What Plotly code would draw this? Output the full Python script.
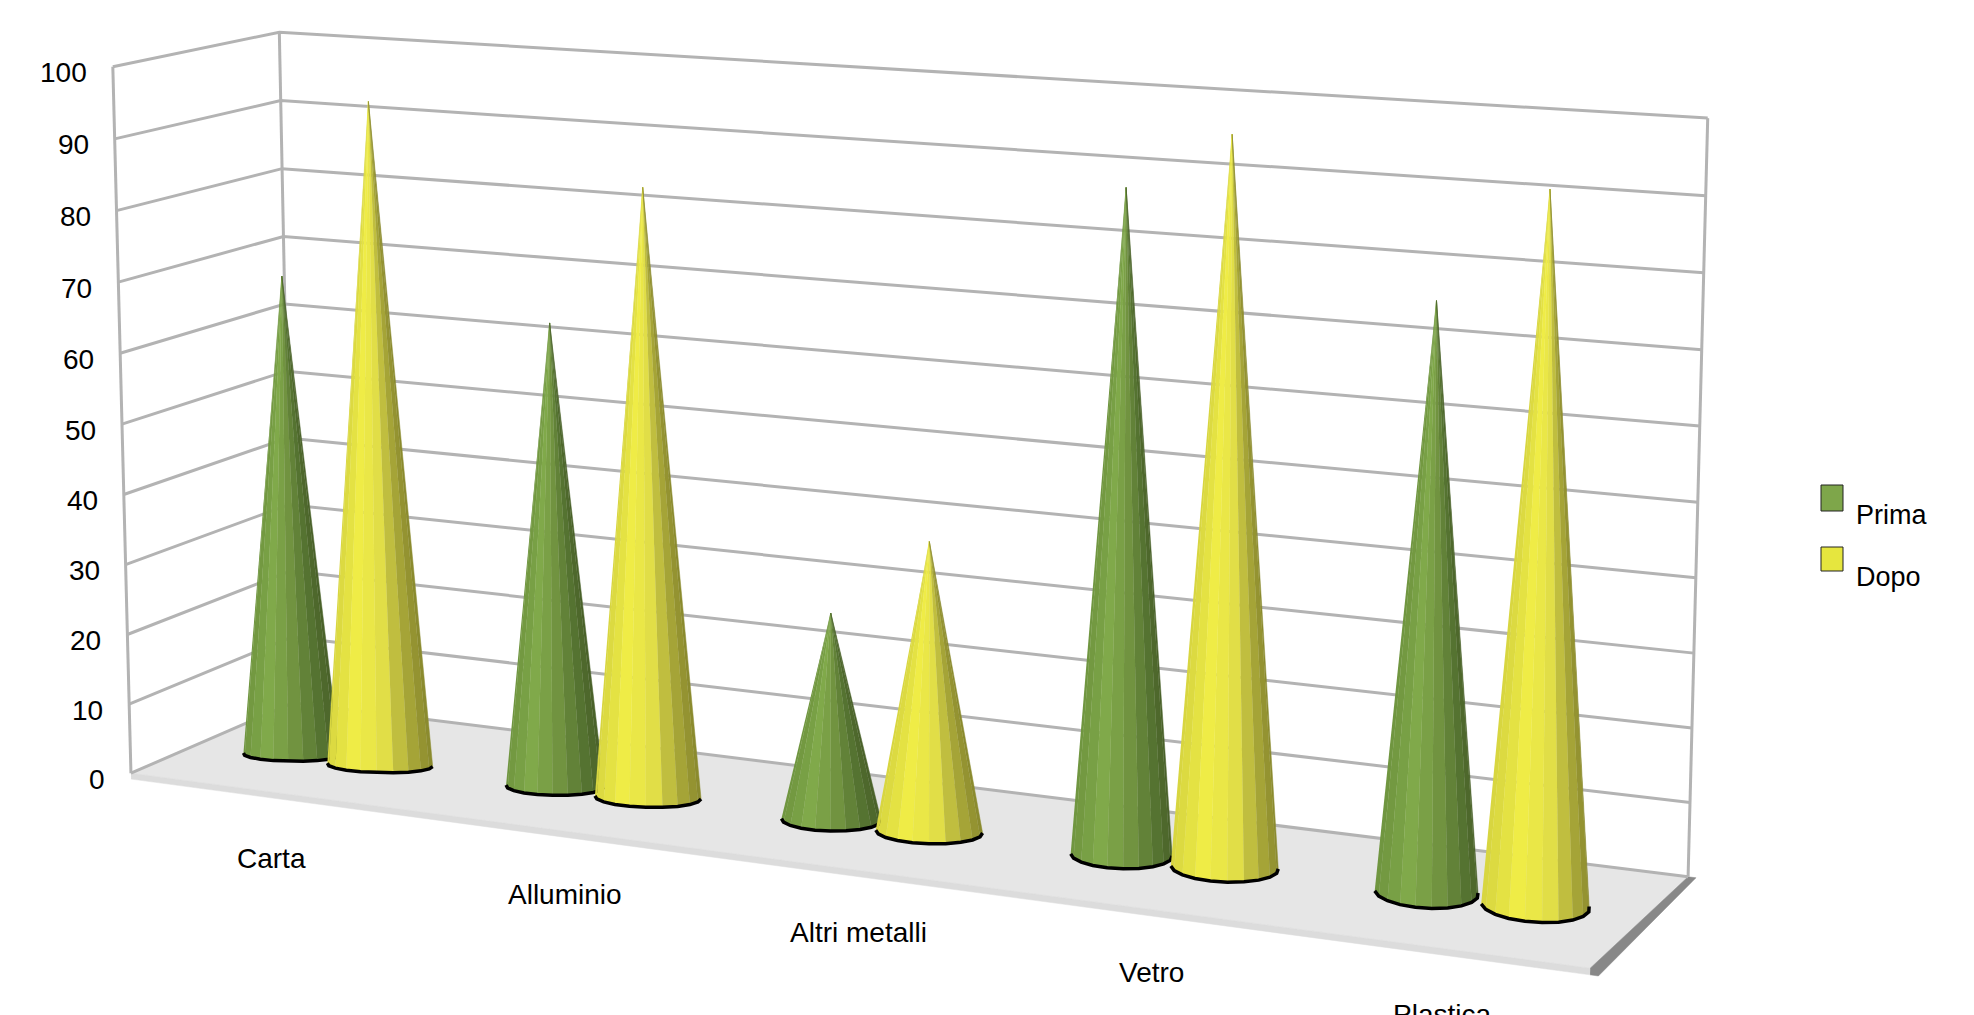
import numpy as np
import plotly.graph_objects as go

categories = ["Carta", "Alluminio", "Altri metalli", "Vetro", "Plastica"]
prima = [69.1, 65.5, 28.8, 89.5, 77.6]
dopo = [94.6, 85.2, 40.0, 97.3, 92.8]
z_ticks = [0, 10, 20, 30, 40, 50, 60, 70, 80, 90, 100]
legend_labels = ["Prima", "Dopo"]

W, H = 1974, 1015
FONT = "Liberation Sans"
FS = 28

# the box of the 3D chart as it sits on the page: (category axis, depth, value) -> page pixel
frame = [((0, 0, 0), (129, 775)), ((5, 0, 0), (1590, 967)), ((5, 1, 0), (1688, 878)), ((0, 1, 0), (295, 701)),
         ((0, 0, 100), (115, 66)), ((0, 1, 100), (277, 33)), ((5, 1, 100), (1708, 118))]

A, b = [], []
for (x, y, z), (u, v) in frame:
    X = [x / 5, y, z / 100, 1]
    A.append(X + [0, 0, 0, 0] + [-u / 1000 * c for c in X[:3]])
    b.append(u / 1000)
    A.append([0, 0, 0, 0] + X + [-v / 1000 * c for c in X[:3]])
    b.append(v / 1000)
M = np.linalg.lstsq(np.array(A, float), np.array(b, float), rcond=None)[0]


def project(x, y, z):
    x, y, z = np.asarray(x, float) / 5, np.asarray(y, float), np.asarray(z, float) / 100
    d = M[8] * x + M[9] * y + M[10] * z + 1
    u = (M[0] * x + M[1] * y + M[2] * z + M[3]) / d
    v = (M[4] * x + M[5] * y + M[6] * z + M[7]) / d
    return u * 1000, v * 1000


def shade(stops, u):
    us = [s[0] for s in stops]
    ch = [np.interp(u, us, [s[1][j] for s in stops]) for j in range(3)]
    return "rgb(%d,%d,%d)" % tuple(int(c) for c in ch)


green = [(-1, (112, 150, 64)), (-0.4, (130, 171, 75)), (0.2, (112, 146, 64)), (0.6, (90, 122, 52)), (1, (74, 98, 42))]
yellow = [(-1, (216, 214, 64)), (-0.4, (242, 239, 71)), (0.2, (224, 221, 72)), (0.55, (181, 179, 60)), (1, (138, 138, 46))]

fig = go.Figure()


def poly(pts, color):
    u, v = project(*zip(*pts))
    fig.add_trace(go.Scatter(x=u, y=v, mode="lines", fill="toself", fillcolor=color,
                             line=dict(color=color, width=0.5), hoverinfo="skip", showlegend=False))


DROP, SIDE = -0.85, 0.025
poly([(0, 0, 0), (5, 0, 0), (5, 1, 0), (0, 1, 0)], "#e6e6e6")
poly([(0, 0, 0), (5, 0, 0), (5, 0, DROP), (0, 0, DROP)], "#dcdcdc")
poly([(5, 0, 0), (5, 1, 0), (5 + SIDE, 1, 0), (5 + SIDE, 0, DROP), (5, 0, DROP)], "#888888")

gx, gy = [], []
for z in z_ticks:
    u, v = project([0, 0, 5], [0, 1, 1], [z, z, z])
    gx += list(u) + [None]
    gy += list(v) + [None]
for a, c in [(0, 0), (0, 1), (5, 1)]:
    u, v = project([a, a], [c, c], [0, 100])
    gx += list(u) + [None]
    gy += list(v) + [None]
fig.add_trace(go.Scatter(x=gx, y=gy, mode="lines", line=dict(color="#b3b3b3", width=3), hoverinfo="skip", showlegend=False))

SHEAR, TILT = -0.46, 0.055
SEG = 10


def cone(xc, h, stops, name, r):
    th = np.pi + np.arange(SEG + 1) / SEG * np.pi
    ry_ = 0.075 + 0.018 * xc
    yc = 0.415 + 0.023 * xc
    dy = ry_ * np.sin(th) + TILT * np.cos(th)
    rx = xc + r * np.cos(th) + SHEAR * dy
    ry = yc + dy
    for a in range(SEG):
        mid = (th[a] + th[a + 1]) / 2
        poly([(rx[a], ry[a], 0), (rx[a + 1], ry[a + 1], 0), (xc, yc, h)], shade(stops, np.cos(mid)))
    u, v = project(rx, ry, 0 * rx)
    fig.add_trace(go.Scatter(x=u, y=v, mode="lines", line=dict(color="black", width=3.5), hoverinfo="skip", showlegend=False, name=name))


for i, c in enumerate(categories):
    xp = i + 0.5 - 0.175 + 0.03 - 0.008 * i
    xd = i + 0.5 + 0.18 - 0.007 * i + 0.013
    cone(xp, prima[i], green, "Prima", 0.18 - 0.002 * xp)
    cone(xd, dopo[i], yellow, "Dopo", 0.198 - 0.0045 * xd)

anns = []
for v_ in z_ticks:
    u, v = project(0, 0, v_)
    anns.append(dict(x=float(u), y=float(v), text=str(v_), showarrow=False, xanchor="right", yanchor="middle",
                     xshift=-24, yshift=-6, font=dict(family=FONT, size=FS, color="black")))
label_shift = [11, 36, 47, 41, 16]
for i, c in enumerate(categories):
    u, v = project(i + 0.5, 0, 0)
    anns.append(dict(x=float(u), y=float(v), text=c, showarrow=False, xanchor="center", yanchor="middle",
                     xshift=label_shift[i], yshift=-68, font=dict(family=FONT, size=FS, color="black")))

shapes = []
for name, fill, y0, y1, ty in zip(legend_labels, ["#7ea64a", "#e6e63e"], [485, 547], [511, 571], [515, 577]):
    shapes.append(dict(type="rect", xref="x", yref="y", x0=1821, x1=1843, y0=y0, y1=y1, fillcolor=fill,
                       line=dict(color="#222222", width=1)))
    anns.append(dict(x=1854, y=ty, text=name, showarrow=False, xanchor="left", yanchor="middle",
                     font=dict(family=FONT, size=27, color="black")))

axis = dict(visible=False, showgrid=False, zeroline=False, fixedrange=True)
fig.update_layout(width=W, height=H, margin=dict(l=0, r=0, t=0, b=0), paper_bgcolor="white", plot_bgcolor="white",
                  showlegend=False, shapes=shapes, annotations=anns,
                  xaxis=dict(range=[0, W], **axis), yaxis=dict(range=[H, 0], **axis))
fig.write_html("out.html", config=dict(displayModeBar=False), post_script="document.body.style.margin='0';document.body.style.overflow='hidden';")
